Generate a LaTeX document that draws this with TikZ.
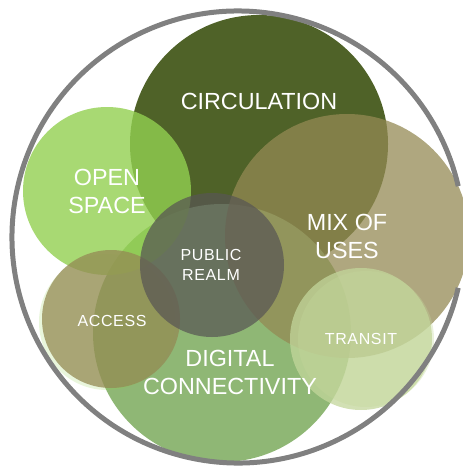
\documentclass[tikz,border=0pt]{standalone}
\usepackage{fontspec}
\setmainfont{Liberation Sans}
\usepackage{color}
\usepackage{tikz}
\tikzset{every picture/.style={line width=0.75pt}}

\definecolor{circgreen}{RGB}{79,98,40}
\definecolor{opengreen}{RGB}{146,208,80}
\definecolor{digigreen}{RGB}{143,183,117}
\definecolor{olivetan}{RGB}{148,138,84}
\definecolor{realmgray}{RGB}{88,86,84}
\definecolor{transitgreen}{RGB}{195,214,155}
\definecolor{ringgray}{RGB}{128,128,128}

\tikzset{
  bubble/.style={fill opacity=#1, draw=none},
  bigtext/.style={text=white, align=center, inner sep=0.75pt, font=\fontsize{17.5}{21}\selectfont},
  smalltext/.style={text=white, align=center, inner sep=0.75pt, font=\fontsize{12}{15.5}\selectfont\addfontfeature{LetterSpace=4}},
}

\begin{document}
\begin{tikzpicture}[x=0.75pt,y=0.75pt,yscale=-1,xscale=1]
\useasboundingbox (0,0) rectangle (462,467);

%Shape: Circle [circulation]
\fill [circgreen] (259,144) circle (129);
%Shape: Circle [digital connectivity]
\fill [digigreen] (222,333) circle (129);
%Shape: Circle [open space]
\fill [opengreen, bubble=0.8] (107,191) circle (84);
%Shape: Circle [mix of uses]
\fill [olivetan, bubble=0.75] (347,236) circle (122);
%Shape: Circle [access, faint copy]
\fill [opengreen, bubble=0.2] (107,322) circle (68);
%Shape: Circle [access]
\fill [olivetan, bubble=0.75] (111,319) circle (69);
%Shape: Circle [public realm]
\fill [realmgray, bubble=0.72] (212,265) circle (72);
%Shape: Circle [transit, faint copy]
\fill [transitgreen, bubble=0.35] (366,339) circle (68);
%Shape: Circle [transit]
\fill [transitgreen, bubble=0.75] (361,339) circle (71);
%Shape: Arc [outer ring, hidden under mix of uses]
\draw [ringgray, line width=3.75pt] (238,237) ++(13:226) arc [start angle=13, end angle=347, radius=226];

\node [bigtext] (circulation) at (259,101) {CIRCULATION};
\node [bigtext] (openspace) at (107,191) {OPEN\\SPACE};
\node [bigtext] (mixofuses) at (347,236) {MIX OF\\USES};
\node [bigtext] (digital) at (230,372) {DIGITAL\\CONNECTIVITY};
\node [smalltext] (realm) at (211,265) {PUBLIC\\REALM};
\node [smalltext] (access) at (112,321) {ACCESS};
\node [smalltext] (transit) at (361,339) {TRANSIT};
\end{tikzpicture}
\end{document}
